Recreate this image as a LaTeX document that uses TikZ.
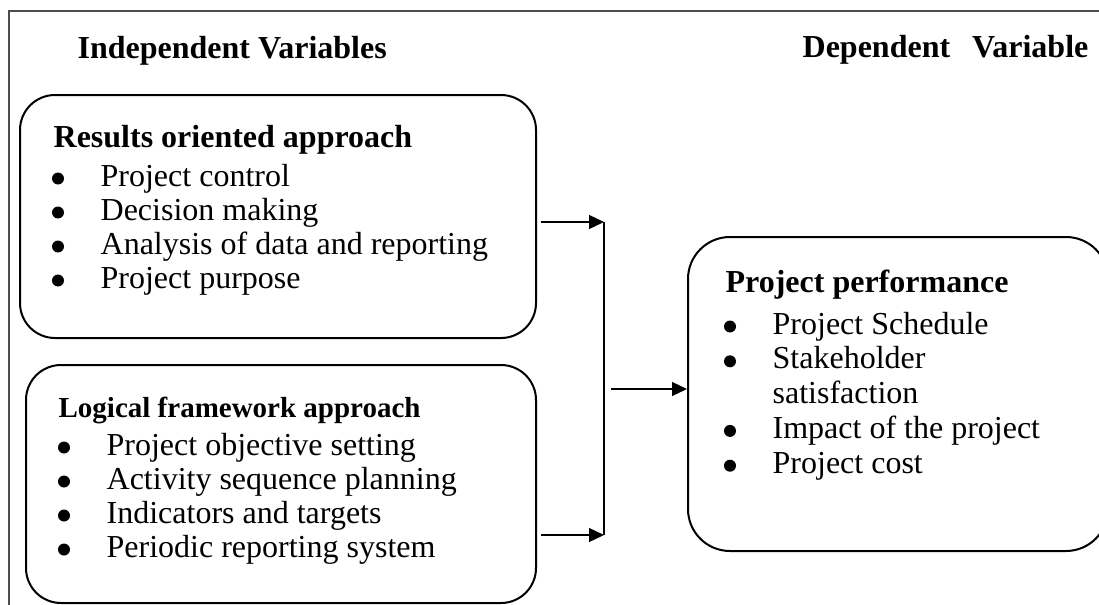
\documentclass[tikz,border=0pt]{standalone}
\usepackage{fontspec}
\setmainfont{Liberation Serif}
\usetikzlibrary{arrows.meta}

\begin{document}
\begin{tikzpicture}[x=0.5pt,y=-0.5pt,>={Triangle[length=7.5pt,width=7pt]},line width=0.65pt]
  \tikzstyle{panel}=[draw,line width=1pt,inner sep=0pt]
  \tikzstyle{head}=[anchor=base west,inner sep=0pt,font=\fontsize{16}{19}\selectfont\bfseries]
  \tikzstyle{item}=[anchor=base west,inner sep=0pt,text height=11pt,text depth=3.5pt,font=\fontsize{16}{19}\selectfont]
  \tikzstyle{dot}=[fill=black]
  \useasboundingbox (0,0) rectangle (1099,605);

  % page frame (only top and left edges fall inside)
  \draw[gray!60!black,line width=0.6pt] (9,605) -- (9,11) -- (1099,11);

  \node[head] (iv) at (77,58) {Independent Variables};
  \node[head] (dv) at (802,57) {Dependent\hspace{11pt}Variable};

  % the three boxes
  \node[panel,rounded corners=17.5pt,minimum width=258pt,minimum height=121.5pt] (roa) at (278,216.5) {};
  \node[panel,rounded corners=17.5pt,minimum width=255pt,minimum height=119pt] (lfa) at (281,484) {};
  \node[panel,rounded corners=21pt,minimum width=210pt,minimum height=157pt] (pp) at (898,394) {};

  \node[head] (roah) at (53,147) {Results oriented approach};
  \foreach \t [count=\i] in {Project control,Decision making,Analysis of data and reporting,Project purpose}{
    \node[item] (roa\i) at (100,{186+34*(\i-1)}) {\t};
    \fill[dot] (roa\i.base west) ++(-42,-7.5) circle (3pt);
  }

  \node[head,font=\fontsize{14.5}{17}\selectfont\bfseries] (lfah) at (58,417) {Logical framework approach};
  \foreach \t [count=\i] in {Project objective setting,Activity sequence planning,Indicators and targets,Periodic reporting system}{
    \node[item] (lfa\i) at (106,{455+34*(\i-1)}) {\t};
    \fill[dot] (lfa\i.base west) ++(-42,-7.5) circle (3pt);
  }

  \node[head] (pph) at (725,292) {Project performance};
  \foreach \t [count=\i] in {Project Schedule,Stakeholder,satisfaction,Impact of the project,Project cost}
    \node[item] (pp\i) at (772,{334+34.8*(\i-1)}) {\t};
  \foreach \i in {1,2,4,5}
    \fill[dot] (pp\i.base west) ++(-42,-7.5) circle (3pt);

  % connectors
  \coordinate (top) at (604,222);
  \coordinate (bot) at (604,535);
  \coordinate (mid) at (611,389);
  \draw[->,shorten <=2pt] (roa.east |- top) -- (top);
  \draw[->,shorten <=2pt] (lfa.east |- bot) -- (bot);
  \draw (top) -- (bot);
  \draw[->] (mid) -- (pp.west |- mid);
\end{tikzpicture}
\end{document}
